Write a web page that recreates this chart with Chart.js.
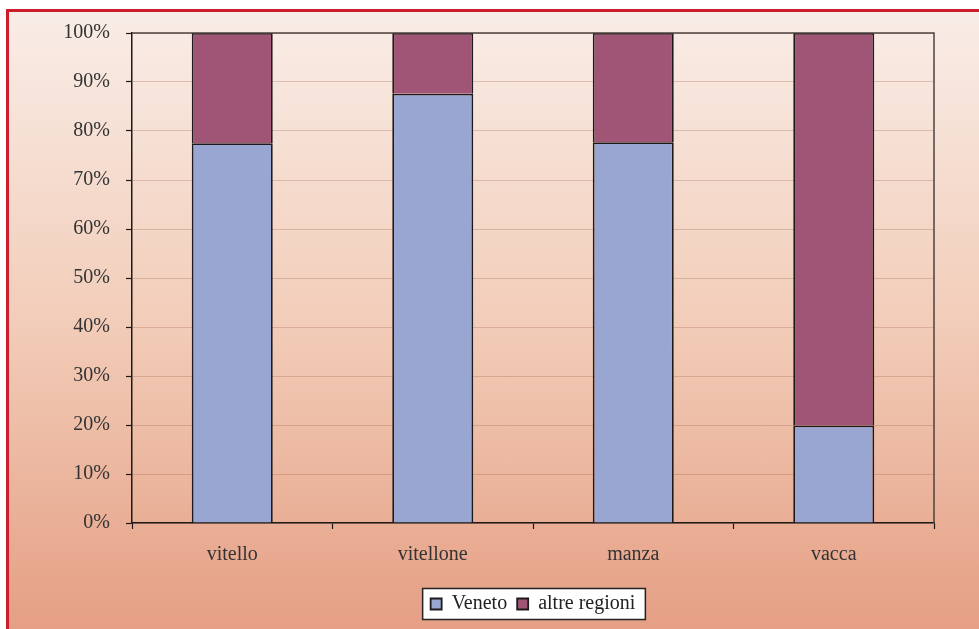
<!DOCTYPE html>
<html>
<head>
<meta charset="utf-8">
<script src="https://cdn.jsdelivr.net/npm/chart.js@4/dist/chart.umd.min.js"></script>
<style>
html, body { margin: 0; padding: 0; background: #fff; }
#wrap { position: relative; width: 979px; height: 629px; overflow: hidden; }
#frame {
    position: absolute; left: 6px; top: 9px; right: 0; bottom: 0;
    border-left: 3px solid #cc1d2c; border-top: 3px solid #cc1d2c;
    background: linear-gradient(#f9ede7, #f2cdb9 50%, #e59f84);
}
canvas { position: absolute; left: 0; top: 0; }
</style>
</head>
<body>
<div id="wrap">
    <div id="frame"></div>
    <canvas id="chart" width="979" height="629"></canvas>
</div>
<script>
const categories = ['vitello', 'vitellone', 'manza', 'vacca'];
const veneto = [77.5, 87.6, 77.7, 19.9];
const altreRegioni = [22.5, 12.4, 22.3, 80.1];
const yMax = 100;
const yStep = 10;

const dark = '#1f1a1a';

// outline on top/right of the plot and white box behind the legend
const frameBox = {
    id: 'frameBox',
    beforeDraw(chart) {
        const boxes = chart.legend && chart.legend.legendHitBoxes;
        if (!boxes || !boxes.length) return;
        const left = Math.min(...boxes.map(b => b.left)) - 8;
        const right = Math.max(...boxes.map(b => b.left + b.width)) + 10;
        const cy = boxes[0].top + boxes[0].height / 2;
        const ctx = chart.ctx;
        ctx.save();
        ctx.fillStyle = '#fff';
        ctx.strokeStyle = '#222';
        ctx.lineWidth = 1.5;
        ctx.fillRect(left, cy - 15.5, right - left, 31);
        ctx.strokeRect(left, cy - 15.5, right - left, 31);
        ctx.restore();
    },
    afterDraw(chart) {
        const a = chart.chartArea;
        const ctx = chart.ctx;
        ctx.save();
        ctx.strokeStyle = '#4e4240';
        ctx.lineWidth = 1.5;
        ctx.beginPath();
        ctx.moveTo(a.left, a.top);
        ctx.lineTo(a.right, a.top);
        ctx.lineTo(a.right, a.bottom);
        ctx.stroke();
        ctx.restore();
    }
};

Chart.defaults.font.family = "'Liberation Serif', 'DejaVu Serif', serif";
Chart.defaults.font.size = 20;
Chart.defaults.color = '#333';

const ctx = document.getElementById('chart').getContext('2d');
const chart = new Chart(ctx, {
    type: 'bar',
    data: {
        labels: categories,
        datasets: [{
            label: 'Veneto',
            data: veneto,
            backgroundColor: '#9aa6d2',
            borderColor: dark,
            borderWidth: 1.8,
            barPercentage: 0.404,
            categoryPercentage: 1
        }, {
            label: 'altre regioni',
            data: altreRegioni,
            backgroundColor: '#a05577',
            borderColor: dark,
            borderWidth: 1.8,
            barPercentage: 0.404,
            categoryPercentage: 1
        }]
    },
    options: {
        responsive: false,
        animation: false,
        layout: { padding: { left: 0, right: 45, top: 33, bottom: 5 } },
        scales: {
            x: {
                stacked: true,
                afterFit(scale) { scale.height = 61; },
                grid: {
                    drawOnChartArea: false,
                    tickLength: 6,
                    tickColor: dark,
                    tickWidth: 1.2
                },
                border: { color: dark, width: 1.5 },
                ticks: { padding: 14, color: '#333' }
            },
            y: {
                stacked: true,
                min: 0,
                max: yMax,
                afterFit(scale) { scale.width = 132; },
                grid: {
                    color: 'rgba(150, 90, 70, 0.28)',
                    tickLength: 6,
                    tickColor: dark,
                    tickWidth: 1.2
                },
                border: { color: dark, width: 1.5 },
                ticks: {
                    stepSize: yStep,
                    padding: 16,
                    color: '#333',
                    callback: v => v + '%'
                }
            }
        },
        plugins: {
            legend: {
                position: 'bottom',
                fullSize: false,
                labels: {
                    boxWidth: 11,
                    boxHeight: 11,
                    padding: 10,
                    color: '#222'
                }
            },
            tooltip: { enabled: false }
        }
    },
    plugins: [frameBox]
});
</script>
</body>
</html>
